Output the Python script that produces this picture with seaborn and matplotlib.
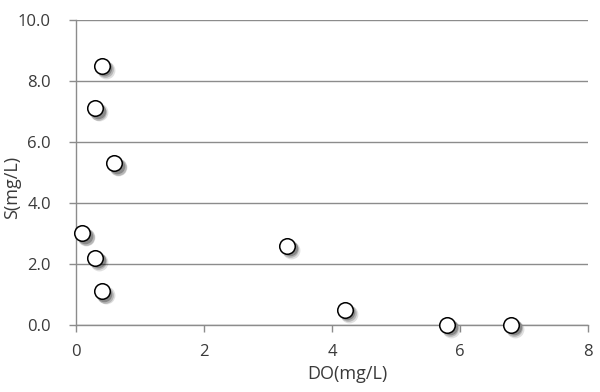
import matplotlib
matplotlib.use("Agg")
import matplotlib.pyplot as plt
import matplotlib.transforms as mtransforms
import pandas as pd
import seaborn as sns

do_mg_l = [0.4, 0.3, 0.6, 0.1, 0.3, 0.4, 3.3, 4.2, 5.8, 6.8]
s_mg_l = [8.5, 7.1, 5.3, 3.0, 2.2, 1.1, 2.6, 0.5, 0.0, 0.0]
x_ticks = [0, 2, 4, 6, 8]
y_ticks = [0.0, 2.0, 4.0, 6.0, 8.0, 10.0]

df = pd.DataFrame({"DO": do_mg_l, "S": s_mg_l})

sns.set_style("white")
plt.rcParams["font.family"] = ["Open Sans", "DejaVu Sans"]

grid_c = "#8c8c8c"
text_c = "#3a3a3a"

fig = plt.figure(figsize=(6, 3.92), dpi=100)
ax = fig.add_axes([0.1267, 0.171, 0.8533, 0.778])

# soft drop shadow: a few gray layers shifted down-right
for dx, sz, a in [(2.8, 165, 0.12), (2.3, 145, 0.18), (1.8, 125, 0.25)]:
    sns.scatterplot(data=df, x="DO", y="S", ax=ax, s=sz, color="black",
                    alpha=a, linewidth=0, zorder=2, clip_on=False, legend=False)
    shift = mtransforms.offset_copy(ax.transData, fig=fig, x=dx, y=-dx, units="points")
    ax.collections[-1].set_offset_transform(shift)

sns.scatterplot(
    data=df, x="DO", y="S", ax=ax, s=125, color="white",
    edgecolor="black", linewidth=1.1, zorder=3, clip_on=False, legend=False,
)

ax.set_xlim(0, 8)
ax.set_ylim(0, 10)
ax.set_xticks(x_ticks)
ax.set_yticks(y_ticks)
ax.set_xticklabels([str(t) for t in x_ticks])
ax.set_yticklabels([f"{t:.1f}" for t in y_ticks])

ax.yaxis.grid(True, color=grid_c, linewidth=1.0)
ax.xaxis.grid(False)
ax.set_axisbelow(True)

for side in ["top", "right"]:
    ax.spines[side].set_visible(False)
for side in ["left", "bottom"]:
    ax.spines[side].set_color(grid_c)
    ax.spines[side].set_linewidth(1.0)

ax.tick_params(axis="y", direction="out", length=5, width=1.0, color=grid_c,
               pad=13, labelsize=12, labelcolor=text_c, left=True)
ax.tick_params(axis="x", direction="out", length=5, width=1.0, color=grid_c,
               pad=9, labelsize=12, labelcolor=text_c, bottom=True)

ax.set_xlabel("DO(mg/L)", fontsize=13, color=text_c)
ax.set_ylabel("S(mg/L)", fontsize=13, color=text_c)
ax.xaxis.set_label_coords(0.53, -0.13)
ax.yaxis.set_label_coords(-0.107, 0.45)

fig.savefig("out.png", dpi=100)
